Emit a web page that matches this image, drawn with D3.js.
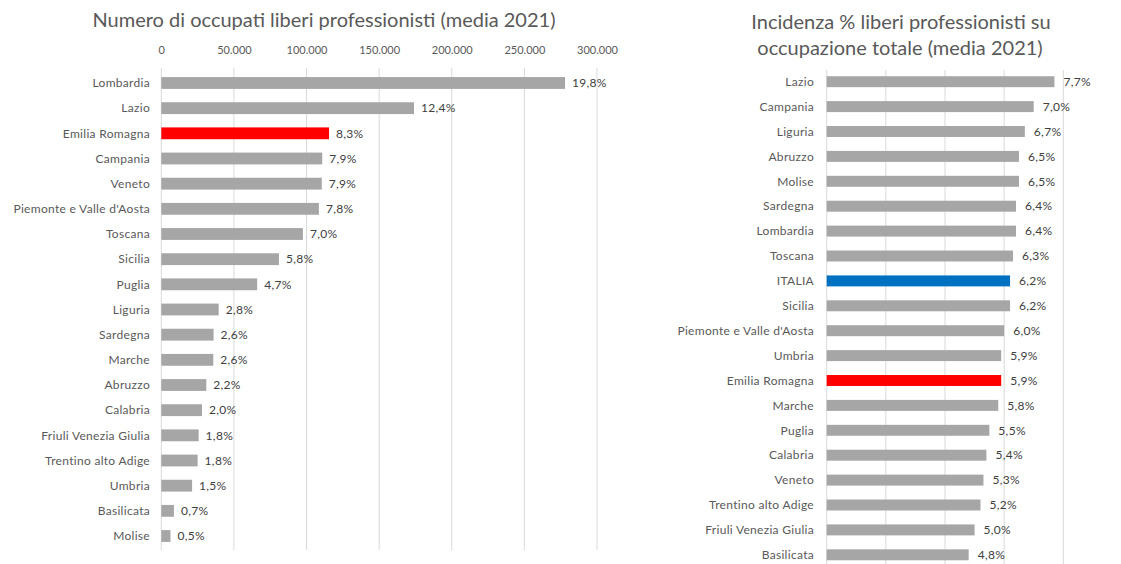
<!DOCTYPE html>
<html>
<head>
<meta charset="utf-8">
<script src="https://cdn.jsdelivr.net/npm/d3@7"></script>
<style>
  body { margin: 0; background: #fff; }
  svg text { font-family: Lato, "Open Sans", sans-serif; }
</style>
</head>
<body>
<div id="grafico"></div>
<script>
// dati grafico sinistro: occupati liberi professionisti (media 2021)
var leftRegions = ["Lombardia", "Lazio", "Emilia Romagna", "Campania", "Veneto",
  "Piemonte e Valle d'Aosta", "Toscana", "Sicilia", "Puglia", "Liguria", "Sardegna",
  "Marche", "Abruzzo", "Calabria", "Friuli Venezia Giulia", "Trentino alto Adige",
  "Umbria", "Basilicata", "Molise"];
var leftValues = [278000, 174000, 115500, 110800, 110500, 108500, 97500, 81000, 66000,
  39500, 36000, 35800, 31000, 28000, 25700, 25000, 21200, 8700, 6300];
var leftShare = ["19,8%", "12,4%", "8,3%", "7,9%", "7,9%", "7,8%", "7,0%", "5,8%", "4,7%",
  "2,8%", "2,6%", "2,6%", "2,2%", "2,0%", "1,8%", "1,8%", "1,5%", "0,7%", "0,5%"];
var leftTicks = [0, 50000, 100000, 150000, 200000, 250000, 300000];

// dati grafico destro: incidenza % su occupazione totale
var rightRegions = ["Lazio", "Campania", "Liguria", "Abruzzo", "Molise", "Sardegna",
  "Lombardia", "Toscana", "ITALIA", "Sicilia", "Piemonte e Valle d'Aosta", "Umbria",
  "Emilia Romagna", "Marche", "Puglia", "Calabria", "Veneto", "Trentino alto Adige",
  "Friuli Venezia Giulia", "Basilicata"];
var rightValues = [7.7, 7.0, 6.7, 6.5, 6.5, 6.4, 6.4, 6.3, 6.2, 6.2, 6.0, 5.9, 5.9,
  5.8, 5.5, 5.4, 5.3, 5.2, 5.0, 4.8];
var rightGrid = [0, 2, 4, 6, 8];

var it = d3.formatLocale({decimal: ",", thousands: ".", grouping: [3], currency: ["", "€"]});
var fmtNum = it.format(",d");
var fmtPct = function(v){ return it.format(".1f")(v) + "%"; };

function barColor(name){
  if (name === "Emilia Romagna") return "#ff0000";
  if (name === "ITALIA") return "#0070c0";
  return "#a6a6a6";
}

var svg = d3.select("#grafico").append("svg")
  .attr("width", 1121).attr("height", 564);

// ---------------- grafico sinistro ----------------
var gL = svg.append("g");
var xL = d3.scaleLinear().domain([0, 300000]).range([161.3, 597]);
var yL = d3.scaleBand().domain(leftRegions).range([70.4, 548.6])
  .paddingInner(0.53).paddingOuter(0.265);

gL.append("text")
  .attr("x", 324).attr("y", 27)
  .attr("text-anchor", "middle")
  .attr("font-size", "20px").attr("fill", "#595959")
  .text("Numero di occupati liberi professionisti (media 2021)");

gL.selectAll("line.grid").data(leftTicks).enter().append("line")
  .attr("class", "grid")
  .attr("x1", function(d){ return xL(d); }).attr("x2", function(d){ return xL(d); })
  .attr("y1", 68).attr("y2", 550)
  .attr("stroke", "#d9d9d9").attr("stroke-width", 1);

var axL = gL.append("g")
  .attr("transform", "translate(0,54)")
  .call(d3.axisTop(xL).tickValues(leftTicks).tickFormat(fmtNum).tickSize(0).tickPadding(0));
axL.select(".domain").remove();
axL.selectAll("text").attr("font-size", "11px").attr("fill", "#595959")
  .style("font-family", "Lato, 'Open Sans', sans-serif");

gL.selectAll("rect.bar").data(leftRegions).enter().append("rect")
  .attr("class", "bar")
  .attr("x", xL(0))
  .attr("y", function(d){ return yL(d); })
  .attr("width", function(d, i){ return xL(leftValues[i]) - xL(0); })
  .attr("height", yL.bandwidth())
  .attr("fill", function(d){ return barColor(d); });

gL.selectAll("text.cat").data(leftRegions).enter().append("text")
  .attr("class", "cat")
  .attr("x", 150)
  .attr("y", function(d){ return yL(d) + yL.bandwidth() / 2; })
  .attr("dy", "0.35em").attr("text-anchor", "end")
  .attr("font-size", "12px").attr("letter-spacing", "0.3px").attr("fill", "#595959")
  .text(function(d){ return d; });

gL.selectAll("text.val").data(leftRegions).enter().append("text")
  .attr("class", "val")
  .attr("x", function(d, i){ return xL(leftValues[i]) + 7; })
  .attr("y", function(d){ return yL(d) + yL.bandwidth() / 2; })
  .attr("dy", "0.35em")
  .attr("font-size", "12px").attr("letter-spacing", "0.3px").attr("fill", "#404040")
  .text(function(d, i){ return leftShare[i]; });

// ---------------- grafico destro ----------------
var gR = svg.append("g");
var xR = d3.scaleLinear().domain([0, 8]).range([826.7, 1063.3]);
var yR = d3.scaleBand().domain(rightRegions).range([69.25, 567.25])
  .paddingInner(0.56).paddingOuter(0.28);

gR.append("text")
  .attr("x", 901).attr("y", 29)
  .attr("text-anchor", "middle")
  .attr("font-size", "20px").attr("fill", "#595959")
  .text("Incidenza % liberi professionisti su");
gR.append("text")
  .attr("x", 900).attr("y", 55)
  .attr("text-anchor", "middle")
  .attr("font-size", "20px").attr("fill", "#595959")
  .text("occupazione totale (media 2021)");

gR.selectAll("line.grid").data(rightGrid).enter().append("line")
  .attr("class", "grid")
  .attr("x1", function(d){ return xR(d); }).attr("x2", function(d){ return xR(d); })
  .attr("y1", 70).attr("y2", 564)
  .attr("stroke", "#d9d9d9").attr("stroke-width", 1);

gR.selectAll("rect.bar").data(rightRegions).enter().append("rect")
  .attr("class", "bar")
  .attr("x", xR(0))
  .attr("y", function(d){ return yR(d); })
  .attr("width", function(d, i){ return xR(rightValues[i]) - xR(0); })
  .attr("height", yR.bandwidth())
  .attr("fill", function(d){ return barColor(d); });

gR.selectAll("text.cat").data(rightRegions).enter().append("text")
  .attr("class", "cat")
  .attr("x", 814)
  .attr("y", function(d){ return yR(d) + yR.bandwidth() / 2; })
  .attr("dy", "0.35em").attr("text-anchor", "end")
  .attr("font-size", "12px").attr("letter-spacing", "0.3px").attr("fill", "#595959")
  .text(function(d){ return d; });

gR.selectAll("text.val").data(rightRegions).enter().append("text")
  .attr("class", "val")
  .attr("x", function(d, i){ return xR(rightValues[i]) + 9; })
  .attr("y", function(d){ return yR(d) + yR.bandwidth() / 2; })
  .attr("dy", "0.35em")
  .attr("font-size", "12px").attr("letter-spacing", "0.3px").attr("fill", "#404040")
  .text(function(d, i){ return fmtPct(rightValues[i]); });
</script>
</body>
</html>
